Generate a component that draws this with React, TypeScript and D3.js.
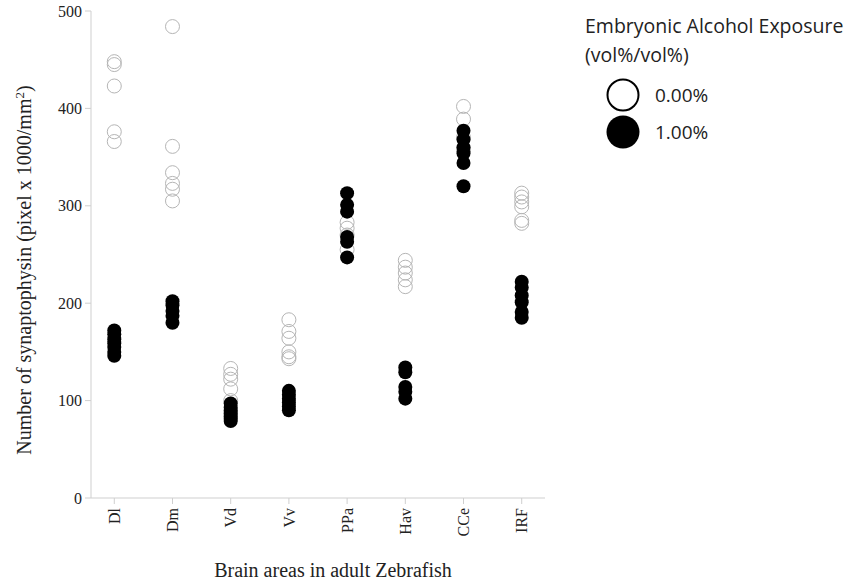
import * as d3 from 'd3';

const areas = ['Dl', 'Dm', 'Vd', 'Vv', 'PPa', 'Hav', 'CCe', 'IRF'];

// 0.00% alcohol (open circles)
const control = [
  [448, 445, 423, 376, 366],
  [484, 361, 334, 323, 317, 305],
  [133, 127, 122, 112, 100],
  [183, 171, 164, 150, 145, 143],
  [283, 277, 270, 255],
  [244, 237, 231, 224, 217],
  [402, 389, 370, 358],
  [313, 309, 304, 299, 285, 282],
];

// 1.00% alcohol (filled circles)
const exposed = [
  [172, 168, 163, 159, 155, 150, 146],
  [202, 198, 192, 187, 180],
  [97, 93, 90, 87, 84, 81, 79],
  [110, 106, 102, 98, 94, 90],
  [313, 301, 294, 268, 263, 247],
  [134, 129, 114, 109, 102],
  [377, 368, 360, 354, 344, 320],
  [222, 216, 208, 201, 191, 185],
];

const yTicks = [0, 100, 200, 300, 400, 500];
const legendLabels = ['0.00%', '1.00%'];

const W = 855;
const H = 586;
const margin = { top: 11, left: 91, right: 310, bottom: 88 };
const innerW = W - margin.left - margin.right;
const innerH = H - margin.top - margin.bottom;

const App = () => {
  const x = d3.scalePoint().domain(areas).range([0, innerW]).padding(0.4);
  const y = d3.scaleLinear().domain([0, 500]).range([innerH, 0]);
  const axisColor = '#cfcfcf';
  const serif = '"Liberation Serif", "Times New Roman", serif';
  const sans = '"Open Sans", "Noto Sans", sans-serif';

  const pts = (sets: number[][]) =>
    sets.flatMap((vals, i) => vals.map(v => ({ area: areas[i], v })));

  return (
    <svg width={W} height={H} style={{ position: 'absolute', left: 0, top: 0, background: '#fff' }}>
      <g transform={`translate(${margin.left},${margin.top})`}>
        {/* axes */}
        <line x1={0} x2={0} y1={0} y2={innerH} stroke={axisColor} />
        <line x1={0} x2={innerW} y1={innerH} y2={innerH} stroke={axisColor} />
        {yTicks.map(t => (
          <g key={t} transform={`translate(0,${y(t)})`}>
            <line x1={-6} x2={0} stroke={axisColor} />
            <text x={-9} dy="0.35em" textAnchor="end" fontFamily={serif} fontSize={16} fill="#222">
              {t}
            </text>
          </g>
        ))}
        {areas.map(a => (
          <g key={a} transform={`translate(${x(a)},${innerH})`}>
            <line y1={0} y2={6} stroke={axisColor} />
            <text
              transform="rotate(-90)"
              x={-10}
              dy="0.35em"
              textAnchor="end"
              fontFamily={serif}
              fontSize={16}
              fill="#222"
            >
              {a}
            </text>
          </g>
        ))}

        {/* points */}
        {pts(control).map((d, i) => (
          <circle key={'c' + i} cx={x(d.area)} cy={y(d.v)} r={7} fill="none" stroke="#b5b5b5" strokeWidth={1} />
        ))}
        {pts(exposed).map((d, i) => (
          <circle key={'e' + i} cx={x(d.area)} cy={y(d.v)} r={7} fill="#000" />
        ))}
      </g>

      {/* axis titles */}
      <text
        transform="translate(31,270) rotate(-90)"
        textAnchor="middle"
        fontFamily={serif}
        fontSize={20}
        fill="#222"
      >
        Number of synaptophysin (pixel x 1000/mm
        <tspan dy={-7} fontSize={13}>2</tspan>
        <tspan dy={7}>)</tspan>
      </text>
      <text x={333} y={577} textAnchor="middle" fontFamily={serif} fontSize={20} fill="#222">
        Brain areas in adult Zebrafish
      </text>

      {/* legend */}
      <text x={585} y={33} fontFamily={sans} fontSize={19.5} fill="#222">
        Embryonic Alcohol Exposure
      </text>
      <text x={585} y={62} fontFamily={sans} fontSize={19.5} fill="#222">
        (vol%/vol%)
      </text>
      {legendLabels.map((l, i) => (
        <g key={l} transform={`translate(623,${95 + i * 37})`}>
          <circle
            r={i === 0 ? 15.5 : 16.5}
            fill={i === 0 ? '#fff' : '#000'}
            stroke="#000"
            strokeWidth={i === 0 ? 2 : 0}
          />
          <text x={32} dy="0.35em" fontFamily={sans} fontSize={19} fill="#222">
            {l}
          </text>
        </g>
      ))}
    </svg>
  );
};

export default App;
